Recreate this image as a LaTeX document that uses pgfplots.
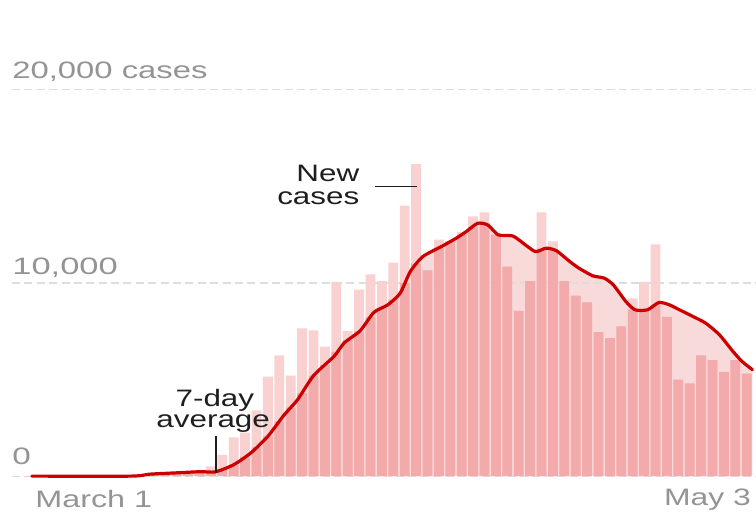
\documentclass[border=0pt]{standalone}
\usepackage{fontspec}
\setmainfont{Liberation Sans}
\usepackage{graphicx}
\usepackage{pgfplots}
\usepackage{pgfplotstable}
\pgfplotsset{compat=1.18}
\definecolor{darkbar}{HTML}{F3AAAA}
\definecolor{lightbar}{HTML}{F9D1D1}
\definecolor{areafill}{HTML}{F8DADA}
\definecolor{avgred}{HTML}{CC0000}
\definecolor{labgray}{HTML}{949494}
\definecolor{gridgray}{HTML}{DDDDDD}
\definecolor{annot}{HTML}{1E1E1E}

\pgfplotstableread{
i val dark
0 0 0
1 0 0
2 0 0
3 0 0
4 0 0
5 0 0
6 0 0
7 0 0
8 0 0
9 0 0
10 50 50
11 100 100
12 150 150
13 150 150
14 250 200
15 300 230
16 500 220
17 1100 380
18 2000 590
19 2250 1000
20 3400 1490
21 5150 2060
22 6250 2840
23 5200 3550
24 7650 4300
25 7550 5200
26 6700 5750
27 10050 6450
28 7500 7040
29 9650 7480
30 10450 8240
31 10100 8700
32 11050 9140
33 14000 10010
34 16150 10990
35 10650 10650
36 12250 11820
37 12150 12150
38 12650 12500
39 13450 12920
40 13650 13030
41 12500 12500
42 10850 10850
43 8550 8550
44 10100 10100
45 13650 11780
46 12150 11710
47 10100 10100
48 9350 9350
49 9000 9000
50 7450 7450
51 7150 7150
52 7750 7750
53 9200 8630
54 10050 8610
55 12000 8880
56 8250 8250
57 5000 5000
58 4800 4800
59 6250 6250
60 6000 6000
61 5400 5400
62 6000 6000
63 5300 5300
}\bars

\pgfplotstableread{
x y
0.3 0
9.0 0
10.6 100
13.0 170
15.1 230
16.4 220
18.0 590
19.5 1200
21.0 2060
22.4 3150
23.6 3955
25.0 5200
26.8 6200
27.7 6900
29.1 7530
30.3 8480
31.5 8860
32.6 9470
33.5 10600
34.6 11370
36.2 11880
37.5 12310
38.4 12660
39.4 13090
40.3 13000
41.2 12490
42.5 12430
43.7 11920
44.5 11620
45.4 11800
46.3 11670
47.5 11100
48.3 10760
49.5 10370
50.5 10250
51.3 9900
52.4 9040
53.2 8610
54.3 8610
55.3 8990
56.2 8870
57.1 8610
58.3 8260
59.4 7920
60.6 7320
61.8 6450
62.6 5930
63.5 5510
}\avg

\newcommand{\lab}[2][1.32]{\scalebox{#1}[1]{\fontsize{11.9}{14}\selectfont #2}}

\begin{document}
\begin{tikzpicture}
\begin{axis}[
  width=378pt, height=257pt, scale only axis,
  xmin=-2.498, xmax=63.76, ymin=-1940, ymax=24650,
  hide axis, clip=false,
]
\path (rel axis cs:0,0) rectangle (rel axis cs:1,1);
% area under the 7-day average
\addplot[fill=areafill, draw=none, smooth, tension=0.4] table[x=x, y=y] {\avg} \closedcycle;
% gridlines
\draw[gridgray, line width=0.6pt, dash pattern=on 4pt off 2.2pt] (axis cs:-1.45,20000) -- (axis cs:63.76,20000);
\draw[gridgray, line width=0.6pt, dash pattern=on 4pt off 2.2pt] (axis cs:-1.45,10000) -- (axis cs:63.76,10000);
\draw[gridgray, line width=0.6pt, dash pattern=on 4pt off 2.2pt] (axis cs:-1.45,0) -- (axis cs:63.76,0);
% bars
\addplot[ybar, bar width=0.86, bar shift=0pt, fill=lightbar, draw=none] table[x=i, y=val] {\bars};
\addplot[ybar, bar width=0.86, bar shift=0pt, fill=darkbar, draw=none] table[x=i, y=dark] {\bars};
% average line
\addplot[avgred, line width=1.6pt, smooth, tension=0.4, line join=round, line cap=round] table[x=x, y=y] {\avg};
% labels
\node[anchor=base west, text=labgray, inner sep=0] at (axis cs:-1.45,20560) {\lab[1.38]{20,000 cases}};
\node[anchor=base west, text=labgray, inner sep=0] at (axis cs:-1.45,10420) {\lab[1.45]{10,000}};
\node[anchor=base west, text=labgray, inner sep=0] at (axis cs:-1.45,595) {\lab[1.4]{0}};
\node[anchor=base west, text=labgray, inner sep=0] at (axis cs:0.57,-1630) {\lab[1.36]{March 1}};
\node[anchor=base east, text=labgray, inner sep=0] at (axis cs:63.4,-1530) {\lab[1.34]{May 3}};
% annotations
\node[anchor=base east, text=annot, inner sep=0] at (axis cs:29.05,15235) {\lab{New}};
\node[anchor=base east, text=annot, inner sep=0] at (axis cs:29.05,14045) {\lab{cases}};
\draw[annot, line width=0.9pt] (axis cs:30.4,14990) -- (axis cs:34.05,14990);
\node[anchor=base, text=annot, inner sep=0] at (axis cs:16.35,3610) {\lab{7-day}};
\node[anchor=base, text=annot, inner sep=0] at (axis cs:16.2,2510) {\lab{average}};
\draw[annot, line width=0.9pt] (axis cs:16.43,2060) -- (axis cs:16.43,165);
\end{axis}
\end{tikzpicture}
\end{document}
